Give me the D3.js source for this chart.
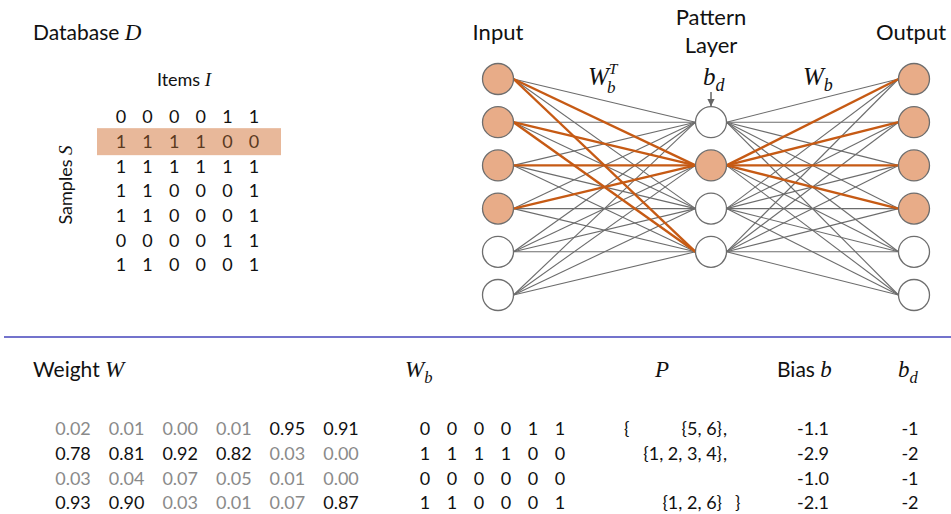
<!DOCTYPE html>
<html>
<head>
  <meta charset="utf-8">
  <title>Pattern network</title>
  <script src="https://d3js.org/d3.v7.min.js"></script>
  <style>
    body { margin: 0; background: #fff; }
    text { font-family: Lato, "Noto Sans", sans-serif; fill: #111; }
    .math { font-family: "Liberation Serif", "DejaVu Serif", serif; font-style: italic; }
    .edge { stroke: #6c6c6c; stroke-width: 1.1; }
    .edge.on { stroke: #c65a14; stroke-width: 2.4; }
    .node { stroke: #6e6e6e; stroke-width: 1.3; fill: #fff; }
    .node.on { fill: #e8ac88; }
  </style>
</head>
<body>
  <svg id="chart" width="951" height="514"></svg>

  <script>
    // database D (samples x items)
    const dbRows = [
      [0, 0, 0, 0, 1, 1],
      [1, 1, 1, 1, 0, 0],
      [1, 1, 1, 1, 1, 1],
      [1, 1, 0, 0, 0, 1],
      [1, 1, 0, 0, 0, 1],
      [0, 0, 0, 0, 1, 1],
      [1, 1, 0, 0, 0, 1]
    ];
    const highlightRow = 1;

    // learned weights W, binarized W_b, patterns P, biases
    const weightW = [
      [0.02, 0.01, 0.00, 0.01, 0.95, 0.91],
      [0.78, 0.81, 0.92, 0.82, 0.03, 0.00],
      [0.03, 0.04, 0.07, 0.05, 0.01, 0.00],
      [0.93, 0.90, 0.03, 0.01, 0.07, 0.87]
    ];
    const weightWb = [
      [0, 0, 0, 0, 1, 1],
      [1, 1, 1, 1, 0, 0],
      [0, 0, 0, 0, 0, 0],
      [1, 1, 0, 0, 0, 1]
    ];
    const patterns = ["{5, 6}", "{1, 2, 3, 4}", "", "{1, 2, 6}"];
    const biasB = ["-1.1", "-2.9", "-1.0", "-2.1"];
    const biasBd = [-1, -2, -1, -2];

    const svg = d3.select("#chart");

    // ---------- Database D ----------
    const dbX = d3.scalePoint().domain(d3.range(6)).range([121, 254]);
    const dbY = d3.scalePoint().domain(d3.range(dbRows.length)).range([117, 265]);

    const title = svg.append("text").attr("x", 33).attr("y", 40).attr("font-size", 21);
    title.append("tspan").text("Database ");
    title.append("tspan").attr("class", "math").attr("font-size", 23).text("D");

    const items = svg.append("text").attr("x", 184).attr("y", 86)
      .attr("text-anchor", "middle").attr("font-size", 18);
    items.append("tspan").text("Items ");
    items.append("tspan").attr("class", "math").attr("font-size", 19).text("I");

    const samples = svg.append("text")
      .attr("transform", "translate(72,185) rotate(-90)")
      .attr("text-anchor", "middle").attr("font-size", 18);
    samples.append("tspan").text("Samples ");
    samples.append("tspan").attr("class", "math").attr("font-size", 19).text("S");

    svg.append("rect")
      .attr("x", 97).attr("y", dbY(highlightRow) - 13.5)
      .attr("width", 184).attr("height", 27)
      .attr("fill", "#e8b89a");

    svg.append("g").selectAll("g").data(dbRows).join("g")
      .each(function (row, r) {
        d3.select(this).selectAll("text").data(row).join("text")
          .attr("x", (d, c) => dbX(c))
          .attr("y", dbY(r))
          .attr("dy", "0.36em")
          .attr("text-anchor", "middle")
          .attr("font-size", 18)
          .style("fill", r === highlightRow ? "#5b3a1f" : "#111")
          .text(d => d);
      });

    // ---------- Network ----------
    const r = 15.5;
    const inX = 498, hidX = 711, outX = 914;
    const nodeY = d3.scalePoint().domain(d3.range(6)).range([79, 295]);
    const hidY = j => nodeY(j + 1);

    const input = dbRows[highlightRow];
    const hidOn = weightWb.map((w, j) => d3.sum(w, (v, i) => v * input[i]) + biasBd[j] > 0);
    const outOn = d3.range(6).map(k => weightWb.some((w, j) => hidOn[j] && w[k] === 1));

    const leftEdges = [], rightEdges = [];
    for (let j = 0; j < 4; j++) {
      for (let i = 0; i < 6; i++) {
        leftEdges.push({ i, j, on: input[i] === 1 && weightWb[j][i] === 1 });
        rightEdges.push({ i, j, on: hidOn[j] && weightWb[j][i] === 1 });
      }
    }
    leftEdges.sort((a, b) => a.on - b.on);
    rightEdges.sort((a, b) => a.on - b.on);

    const edges = svg.append("g");
    edges.selectAll(".left").data(leftEdges).join("line")
      .attr("class", d => "edge left" + (d.on ? " on" : ""))
      .attr("x1", inX + r).attr("y1", d => nodeY(d.i))
      .attr("x2", hidX - r).attr("y2", d => hidY(d.j));
    edges.selectAll(".right").data(rightEdges).join("line")
      .attr("class", d => "edge right" + (d.on ? " on" : ""))
      .attr("x1", hidX + r).attr("y1", d => hidY(d.j))
      .attr("x2", outX - r).attr("y2", d => nodeY(d.i));

    const nodes = svg.append("g");
    nodes.selectAll(".in").data(input).join("circle")
      .attr("class", d => "node in" + (d ? " on" : ""))
      .attr("cx", inX).attr("cy", (d, i) => nodeY(i)).attr("r", r);
    nodes.selectAll(".hid").data(hidOn).join("circle")
      .attr("class", d => "node hid" + (d ? " on" : ""))
      .attr("cx", hidX).attr("cy", (d, j) => hidY(j)).attr("r", r);
    nodes.selectAll(".out").data(outOn).join("circle")
      .attr("class", d => "node out" + (d ? " on" : ""))
      .attr("cx", outX).attr("cy", (d, k) => nodeY(k)).attr("r", r);

    // arrow for b_d
    svg.append("defs").append("marker")
      .attr("id", "arr").attr("viewBox", "0 0 10 10")
      .attr("refX", 10).attr("refY", 5)
      .attr("markerWidth", 5).attr("markerHeight", 5)
      .attr("orient", "auto")
      .append("path").attr("d", "M0,0L10,5L0,10z").attr("fill", "#666");
    svg.append("line")
      .attr("x1", hidX).attr("y1", 92).attr("x2", hidX).attr("y2", hidY(0) - r - 0.5)
      .attr("stroke", "#666").attr("stroke-width", 1.5)
      .attr("marker-end", "url(#arr)");

    // network labels
    svg.append("text").attr("x", inX).attr("y", 40).attr("text-anchor", "middle")
      .attr("font-size", 22).text("Input");
    svg.append("text").attr("x", hidX).attr("y", 25).attr("text-anchor", "middle")
      .attr("font-size", 22).text("Pattern");
    svg.append("text").attr("x", hidX).attr("y", 53).attr("text-anchor", "middle")
      .attr("font-size", 22).text("Layer");
    svg.append("text").attr("x", 911).attr("y", 40).attr("text-anchor", "middle")
      .attr("font-size", 22).text("Output");

    function mathLabel(x, y, base, sub, sup, size, anchor) {
      const t = svg.append("text").attr("class", "math")
        .attr("x", x).attr("y", y).attr("font-size", size)
        .attr("text-anchor", anchor || "start");
      t.append("tspan").text(base);
      if (sup) {
        t.append("tspan").attr("font-size", size * 0.62).attr("dy", -size * 0.45).text(sup);
        t.append("tspan").attr("font-size", size * 0.68).attr("dx", -size * 0.42)
          .attr("dy", size * 0.75).text(sub);
      } else if (sub) {
        t.append("tspan").attr("font-size", size * 0.72).attr("dy", size * 0.25).text(sub);
      }
      return t;
    }
    mathLabel(588, 85, "W", "b", "T", 25);
    mathLabel(703, 85, "b", "d", null, 25);
    mathLabel(803, 85, "W", "b", null, 25);

    // divider
    svg.append("line").attr("x1", 4).attr("x2", 951).attr("y1", 337).attr("y2", 337)
      .attr("stroke", "#7373cc").attr("stroke-width", 1.8);

    // ---------- Bottom tables ----------
    const rowY = d3.scalePoint().domain(d3.range(4)).range([429, 503]);
    const wX = d3.scalePoint().domain(d3.range(6)).range([73, 341]);
    const wbX = d3.scalePoint().domain(d3.range(6)).range([425, 560]);

    const wTitle = svg.append("text").attr("x", 33).attr("y", 377).attr("font-size", 21);
    wTitle.append("tspan").text("Weight ");
    wTitle.append("tspan").attr("class", "math").attr("font-size", 23).text("W");
    mathLabel(405, 377, "W", "b", null, 23);
    svg.append("text").attr("class", "math").attr("x", 662).attr("y", 377)
      .attr("text-anchor", "middle").attr("font-size", 23).text("P");
    const bTitle = svg.append("text").attr("x", 777).attr("y", 377).attr("font-size", 21);
    bTitle.append("tspan").text("Bias ");
    bTitle.append("tspan").attr("class", "math").attr("font-size", 23).text("b");
    mathLabel(898, 377, "b", "d", null, 23);

    const cell = (g, x, y, txt) => g.append("text")
      .attr("x", x).attr("y", y).attr("dy", "0.36em")
      .attr("text-anchor", "middle").attr("font-size", 18).text(txt);

    const bottom = svg.append("g");
    weightW.forEach((row, i) => {
      row.forEach((v, c) => {
        cell(bottom, wX(c), rowY(i), d3.format(".2f")(v))
          .style("fill", v >= 0.5 ? "#111" : "#8a8a8a");
      });
      weightWb[i].forEach((v, c) => cell(bottom, wbX(c), rowY(i), v));
      if (patterns[i]) {
        bottom.append("text").attr("x", 722).attr("y", rowY(i)).attr("dy", "0.36em")
          .attr("text-anchor", "end").attr("font-size", 18).text(patterns[i]);
        if (i < patterns.length - 1) {
          bottom.append("text").attr("x", 723).attr("y", rowY(i)).attr("dy", "0.36em")
            .attr("font-size", 18).text(",");
        }
      }
      cell(bottom, 813, rowY(i), biasB[i]);
      cell(bottom, 910, rowY(i), biasBd[i]);
    });
    bottom.append("text").attr("x", 624).attr("y", rowY(0)).attr("dy", "0.36em")
      .attr("font-size", 18).text("{");
    bottom.append("text").attr("x", 735).attr("y", rowY(3)).attr("dy", "0.36em")
      .attr("font-size", 18).text("}");
  </script>
</body>
</html>
